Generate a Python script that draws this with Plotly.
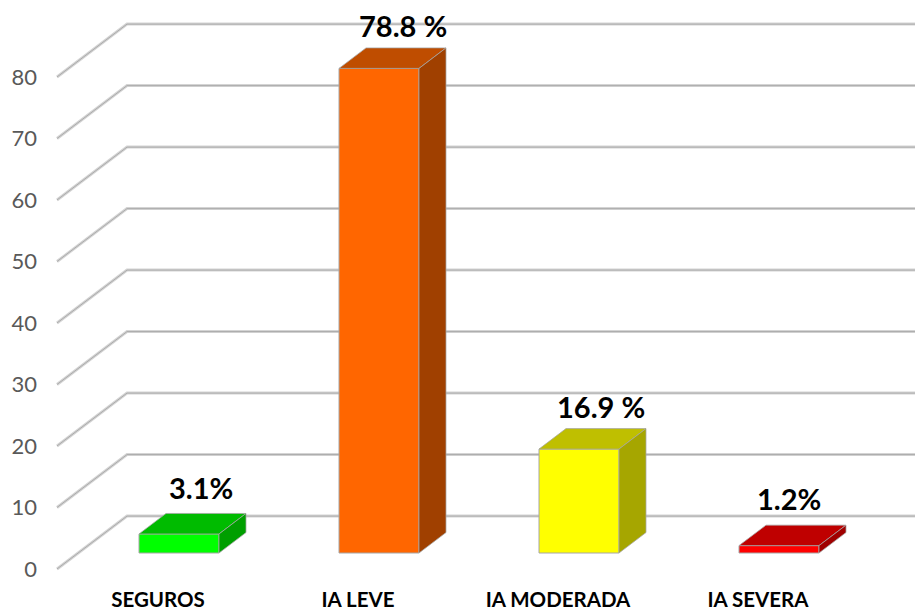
import plotly.graph_objects as go

# --- data ---
categories = ["SEGUROS", "IA LEVE", "IA MODERADA", "IA SEVERA"]
values = [3.1, 78.8, 16.9, 1.2]
value_labels = ["3.1%", "78.8 %", "16.9 %", "1.2%"]
y_ticks = [0, 10, 20, 30, 40, 50, 60, 70, 80]

# --- colours ---
front_colors = ["#00FF00", "#FF6600", "#FFFF00", "#FF0000"]
top_colors = ["#00BB00", "#BF4D00", "#BFBF00", "#BF0000"]
side_colors = ["#009F00", "#A04000", "#A6A600", "#A00000"]
edge = "#A6A6A6"

# --- pseudo-3D geometry, in axis units ---
bar_width = 0.40
bar_dx, bar_dy = 0.135, 3.33
wall_front_x, wall_back_x = -0.61, -0.26
wall_front_dy, wall_back_dy = -2.6, 6.0
label_shift_cat = -0.105
x_range = [-0.705, 3.68]
y_range = [-4.39, 89.92]

# label offsets from the top of each bar, in pixels
label_dx = [22, 24, 22, 10]
label_dy = [46, 43, 43, 47]

fig = go.Figure()
idx = list(range(len(categories)))

fig.add_trace(go.Bar(
    x=idx, y=values, width=bar_width,
    marker=dict(color=front_colors, line=dict(color=edge, width=1)),
    showlegend=False, hoverinfo="skip",
))

for i, v in zip(idx, values):
    l, r = i - bar_width / 2, i + bar_width / 2
    fig.add_trace(go.Scatter(
        x=[l, l + bar_dx, r + bar_dx, r, l],
        y=[v, v + bar_dy, v + bar_dy, v, v],
        mode="lines", fill="toself", fillcolor=top_colors[i],
        line=dict(color=edge, width=0.75), showlegend=False, hoverinfo="skip",
    ))
    fig.add_trace(go.Scatter(
        x=[r, r + bar_dx, r + bar_dx, r, r],
        y=[0, bar_dy, v + bar_dy, v, 0],
        mode="lines", fill="toself", fillcolor=side_colors[i],
        line=dict(color=edge, width=0.75), showlegend=False, hoverinfo="skip",
    ))

shapes = []
for t in y_ticks:
    path = (f"M {wall_front_x} {t + wall_front_dy} "
            f"L {wall_back_x} {t + wall_back_dy} "
            f"L {x_range[1]} {t + wall_back_dy}")
    for color, w in (("#D4D4D4", 3), ("#ABABAB", 1)):
        shapes.append(dict(type="path", path=path, layer="below",
                           xref="x", yref="y", line=dict(color=color, width=w)))

annotations = [
    dict(x=i, y=v, xref="x", yref="y", text=f"<b>{lab}</b>", showarrow=False,
         xshift=dx, yshift=dy, xanchor="center", yanchor="middle",
         font=dict(family="Lato", size=29, color="#000000"))
    for i, v, lab, dx, dy in zip(idx, values, value_labels, label_dx, label_dy)
]

fig.update_layout(
    width=915, height=608,
    margin=dict(l=38, r=0, t=0, b=28, autoexpand=False),
    paper_bgcolor="#FFFFFF", plot_bgcolor="#FFFFFF",
    showlegend=False, shapes=shapes, annotations=annotations,
    xaxis=dict(
        range=x_range, showgrid=False, zeroline=False, showline=False,
        tickmode="array", tickvals=[i + label_shift_cat for i in idx],
        ticktext=[f"<b>{c}</b>" for c in categories],
        tickfont=dict(family="Lato", size=20.5, color="#000000"),
        ticks="outside", ticklen=1, tickcolor="rgba(0,0,0,0)",
    ),
    yaxis=dict(
        range=y_range, showgrid=False, zeroline=False, showline=False,
        tickmode="array", tickvals=[t + wall_front_dy for t in y_ticks],
        ticktext=[str(t) for t in y_ticks],
        tickfont=dict(family="Lato", size=22, color="#595959"),
        ticks="", ticklen=0,
    ),
)

fig.write_html("out.html", config=dict(displayModeBar=False),
               post_script="document.body.style.margin='0';")
